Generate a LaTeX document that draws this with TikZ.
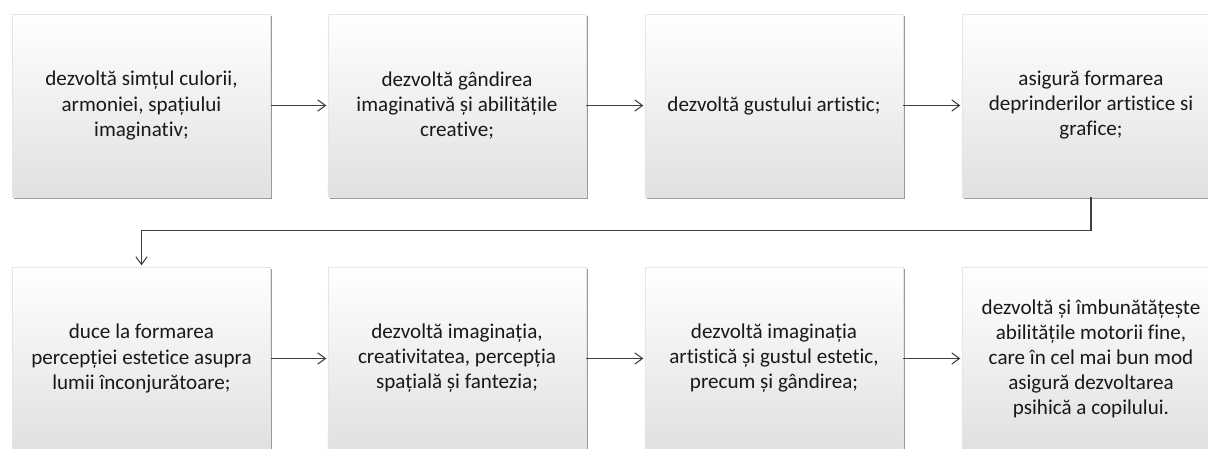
\documentclass[tikz,border=0pt]{standalone}
\usepackage{fontspec}
\setmainfont{Carlito}[Ligatures=CommonOff]
\usetikzlibrary{arrows.meta,%
                shadows}

\begin{document}
\begin{tikzpicture}[x=0.025cm,y=0.025cm]
		\tikzstyle{BoxStyle}=[shade,top color=white,middle color=white!97!black,bottom color=black!12,
			draw=black!10,line width=0.3pt,inner sep=0pt,
			minimum width=6.45cm,minimum height=4.575cm,align=center,
			text=black!90,font=\fontsize{15}{17.8}\selectfont,
			drop shadow={shadow xshift=1.2pt,shadow yshift=-1.6pt,opacity=0.4,fill=black}]
		\tikzstyle{EdgeStyle}=[-{Straight Barb[length=5.5pt,width=8pt]},draw=black!75,line width=0.75pt,shorten >=1pt]
		\useasboundingbox (0,0) rectangle (1208,448);
		\clip (0,0) rectangle (1208,448);
		% first row
		\node[BoxStyle] (A) at (141.5,342.5) {dezvoltă simțul culorii,\\ armoniei, spațiului\\ imaginativ;};
		\node[BoxStyle] (B) at (457,342.5) {dezvoltă gândirea\\ imaginativă și abilitățile\\ creative;};
		\node[BoxStyle] (C) at (774,342.5) {dezvoltă gustului artistic;};
		\node[BoxStyle] (D) at (1091,342.5) {asigură formarea\\ deprinderilor artistice si\\ grafice;};
		% second row
		\node[BoxStyle] (E) at (141.5,89.5) {duce la formarea\\ percepției estetice asupra\\ lumii înconjurătoare;};
		\node[BoxStyle] (F) at (457,89.5) {dezvoltă imaginația,\\ creativitatea, percepția\\ spațială și fantezia;};
		\node[BoxStyle] (G) at (774,89.5) {dezvoltă imaginația\\ artistică și gustul estetic,\\ precum și gândirea;};
		\node[BoxStyle] (H) at (1091,89.5) {dezvoltă și îmbunătățește\\ abilitățile motorii fine,\\ care în cel mai bun mod\\ asigură dezvoltarea\\ psihică a copilului.};

		\draw[EdgeStyle] (A) -- (B);
		\draw[EdgeStyle] (B) -- (C);
		\draw[EdgeStyle] (C) -- (D);
		\draw[EdgeStyle] (D.south) -- ++(0,-33) -| (E.north);
		\draw[EdgeStyle] (E) -- (F);
		\draw[EdgeStyle] (F) -- (G);
		\draw[EdgeStyle] (G) -- (H);
	\end{tikzpicture}
\end{document}
